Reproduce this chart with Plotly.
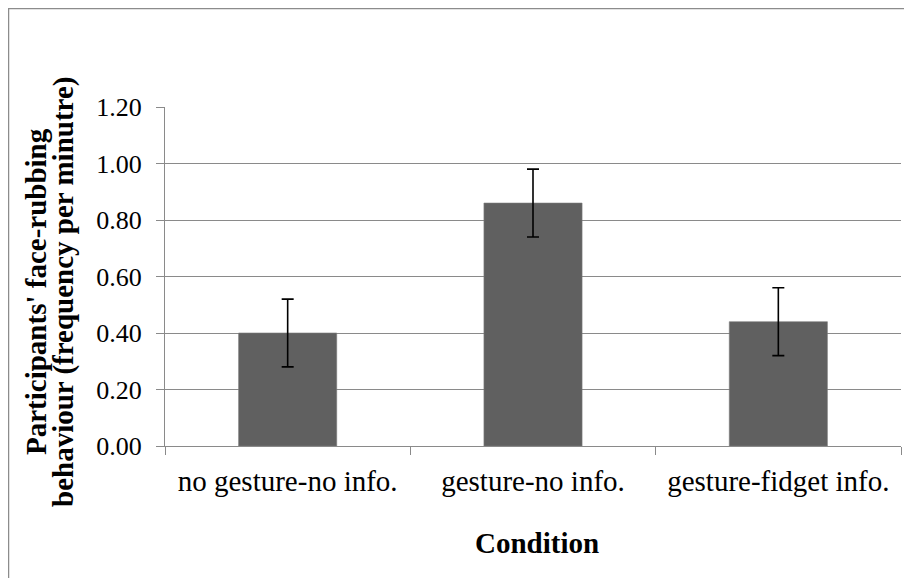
import plotly.graph_objects as go

categories = ["no gesture-no info.", "gesture-no info.", "gesture-fidget info."]
means = [0.40, 0.86, 0.44]
errors = [0.12, 0.12, 0.12]
y_ticks = [0.0, 0.2, 0.4, 0.6, 0.8, 1.0, 1.2]

# the page body adds an 8px offset, so the figure is drawn 8px smaller
OFF = 8
W, H = 912 - OFF, 578 - OFF
# target plot area in screen pixels
X0, X1, Y0, Y1 = 165, 901, 107, 446
L, R, T, B = X0 - OFF, (W + OFF) - X1, Y0 - OFF, (H + OFF) - Y1
pw = X1 - X0
ph = Y1 - Y0


def px_x(p):
    return (p - X0) / pw


def px_y(p):
    return (Y1 - p) / ph


FONT = "Liberation Serif"
GRID = "#8a8a8a"

fig = go.Figure(
    go.Bar(
        x=categories,
        y=means,
        marker=dict(color="#606060", line=dict(color="#7a7a7a", width=0.6)),
        error_y=dict(type="data", array=errors, visible=True,
                     color="black", thickness=1.6, width=6),
        width=0.4,
    )
)

fig.update_layout(
    width=W, height=H,
    margin=dict(l=L, r=R, t=T, b=B, pad=0),
    paper_bgcolor="white", plot_bgcolor="white",
    showlegend=False,
    font=dict(family=FONT, color="black"),
    xaxis=dict(
        type="category",
        showline=True, linecolor=GRID, linewidth=1.3,
        ticks="outside", tickson="boundaries", ticklen=8, tickcolor=GRID,
        tickwidth=1.3,
        showgrid=False,
        tickfont=dict(size=29, family=FONT, color="black"),
        ticklabelstandoff=9,
    ),
    yaxis=dict(
        range=[0, 1.2],
        tickvals=y_ticks,
        tickformat=".2f",
        showline=True, linecolor=GRID, linewidth=1.3,
        ticks="outside", ticklen=8, tickcolor=GRID, tickwidth=1.3,
        showgrid=True, gridcolor=GRID, gridwidth=1.3,
        zeroline=False,
        tickfont=dict(size=26, family=FONT, color="black"),
        ticklabelstandoff=9,
    ),
    shapes=[
        dict(type="rect", xref="paper", yref="paper",
             x0=px_x(8.5), x1=px_x(W + OFF + 10), y0=px_y(H + OFF + 10), y1=px_y(8.5),
             line=dict(color="#8c8c8c", width=1.5), fillcolor="rgba(0,0,0,0)",
             layer="below"),
    ],
    annotations=[
        dict(text="<b>Participants' face-rubbing</b>", xref="paper", yref="paper",
             x=px_x(36), y=px_y(292), textangle=-90, showarrow=False,
             xanchor="center", yanchor="middle",
             font=dict(size=29, family=FONT, color="black")),
        dict(text="<b>behaviour (frequency per minutre)</b>", xref="paper", yref="paper",
             x=px_x(63), y=px_y(292), textangle=-90, showarrow=False,
             xanchor="center", yanchor="middle",
             font=dict(size=29, family=FONT, color="black")),
        dict(text="<b>Condition</b>", xref="paper", yref="paper",
             x=px_x(537), y=px_y(543), showarrow=False,
             xanchor="center", yanchor="middle",
             font=dict(size=29, family=FONT, color="black")),
    ],
)

fig.write_html("out.html")
